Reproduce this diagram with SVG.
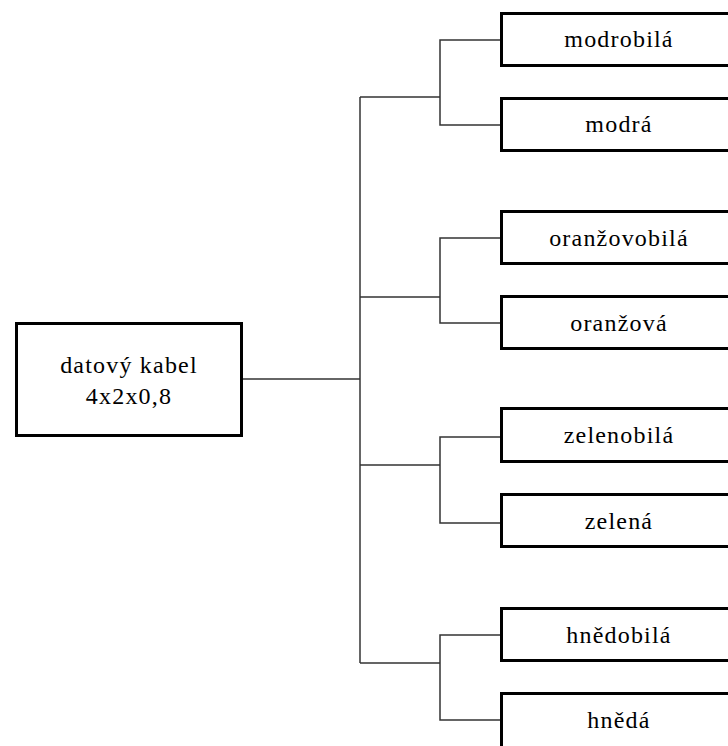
<svg xmlns="http://www.w3.org/2000/svg" width="728" height="746" viewBox="0 0 728 746">
  <style>
    .box { fill: #ffffff; stroke: #000000; stroke-width: 3; }
    .wire { fill: none; stroke: #333333; stroke-width: 1.5; }
    .lbl { font-family: "Liberation Serif", "Times New Roman", serif; font-size: 24px; fill: #000000; text-anchor: middle; letter-spacing: 1.2px; }
  </style>
  <rect width="728" height="746" fill="#ffffff"/>

  <!-- tree connectors -->
  <g id="connectors" class="wire">
    <path d="M243 379 H360"/>
    <path d="M360 97 V663"/>
    <path d="M360 97 H440 M360 297 H440 M360 465 H440 M360 663 H440"/>
    <path d="M500 40 H440 V125 H500"/>
    <path d="M500 238 H440 V323 H500"/>
    <path d="M500 437 H440 V523 H500"/>
    <path d="M500 635 H440 V720 H500"/>
  </g>

  <!-- root -->
  <g id="cable">
    <rect class="box" x="16.5" y="323.5" width="225" height="112"/>
    <text class="lbl" x="129" y="373">datový kabel</text>
    <text class="lbl" x="129" y="404">4x2x0,8</text>
  </g>

  <!-- wire colours -->
  <g id="modrobila">
    <rect class="box" x="501.5" y="13.5" width="236" height="52"/>
    <text class="lbl" x="619" y="47">modrobilá</text>
  </g>
  <g id="modra">
    <rect class="box" x="501.5" y="98.5" width="236" height="52"/>
    <text class="lbl" x="619" y="132">modrá</text>
  </g>
  <g id="oranzovobila">
    <rect class="box" x="501.5" y="211.5" width="236" height="52"/>
    <text class="lbl" x="619" y="246">oranžovobilá</text>
  </g>
  <g id="oranzova">
    <rect class="box" x="501.5" y="296.5" width="236" height="52"/>
    <text class="lbl" x="619" y="331">oranžová</text>
  </g>
  <g id="zelenobila">
    <rect class="box" x="501.5" y="408.5" width="236" height="53"/>
    <text class="lbl" x="619" y="443">zelenobilá</text>
  </g>
  <g id="zelena">
    <rect class="box" x="501.5" y="494.5" width="236" height="52"/>
    <text class="lbl" x="619" y="529">zelená</text>
  </g>
  <g id="hnedobila">
    <rect class="box" x="501.5" y="608.5" width="236" height="52"/>
    <text class="lbl" x="619" y="643">hnědobilá</text>
  </g>
  <g id="hneda">
    <rect class="box" x="501.5" y="693.5" width="236" height="60"/>
    <text class="lbl" x="619" y="728">hnědá</text>
  </g>
</svg>
